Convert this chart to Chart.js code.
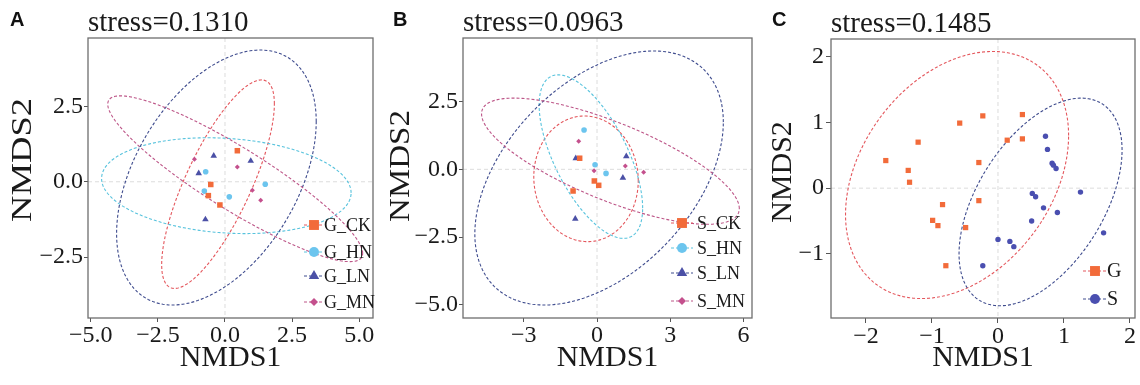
<!DOCTYPE html>
<html>
<head>
<meta charset="utf-8">
<title>NMDS ordination</title>
<script src="https://cdn.jsdelivr.net/npm/chart.js@4.4.1/dist/chart.umd.min.js"></script>
<style>
  html, body { margin: 0; padding: 0; background: #fff; }
  body { width: 1140px; height: 385px; position: relative; overflow: hidden; }
  .panel { position: absolute; top: 0; width: 380px; height: 385px; }
  .tag { position: absolute; top: 8px; font: bold 20px "Liberation Sans", Arial, sans-serif; color: #111; }
</style>
</head>
<body>
<div class="panel" style="left:0"><canvas id="chartA" width="380" height="385"></canvas></div>
<div class="panel" style="left:380px"><canvas id="chartB" width="380" height="385"></canvas></div>
<div class="panel" style="left:760px"><canvas id="chartC" width="380" height="385"></canvas></div>
<div class="tag" style="left:10px">A</div>
<div class="tag" style="left:393px">B</div>
<div class="tag" style="left:772px">C</div>
<script>
// ---- data: [NMDS1, NMDS2] per sample ----
const A_CK = [[0.46, 1.03], [-0.53, -0.09], [-0.62, -0.46], [-0.19, -0.77]];
const A_HN = [[-0.72, 0.33], [-0.77, -0.31], [0.16, -0.50], [1.50, -0.08]];
const A_LN = [[-0.42, 0.86], [-0.98, 0.28], [0.96, 0.69], [-0.73, -1.25]];
const A_MN = [[-1.14, 0.75], [0.46, 0.49], [1.02, -0.28], [1.33, -0.61]];

const B_CK = [[-0.11, -0.43], [0.07, -0.59], [-0.98, -0.80], [-0.71, 0.41]];
const B_HN = [[-0.53, 1.45], [-0.08, 0.17], [0.37, -0.15]];
const B_LN = [[-0.87, 0.41], [1.20, 0.48], [1.06, -0.31], [-0.89, -1.83]];
const B_MN = [[-0.75, 1.04], [-0.12, -0.05], [1.16, 0.12], [1.91, -0.11]];

const C_G = [[-1.70, 0.42], [-1.36, 0.27], [-1.34, 0.09], [-1.21, 0.70], [-0.58, 0.99],
  [-0.23, 1.10], [0.37, 1.12], [0.14, 0.73], [0.37, 0.75], [-0.29, 0.39], [-0.84, -0.25],
  [-0.29, -0.19], [-0.99, -0.49], [-0.91, -0.57], [-0.49, -0.60], [-0.79, -1.18]];
const C_S = [[0.72, 0.79], [0.75, 0.59], [0.82, 0.38], [0.84, 0.35], [0.88, 0.30],
  [0.52, -0.08], [0.57, -0.13], [1.25, -0.06], [0.69, -0.30], [0.90, -0.37], [0.51, -0.50],
  [1.60, -0.68], [0.00, -0.78], [0.18, -0.81], [0.24, -0.89], [-0.23, -1.18]];

// ---- 95% ellipses: [centre x, centre y, half-width, half-height, correlation] ----
const A_CK_ELL = [-0.26, -0.08, 2.10, 3.46, 0.77];
const A_HN_ELL = [0.05, -0.13, 4.65, 1.59, -0.15];
const A_LN_ELL = [-0.32, 0.14, 3.72, 4.23, 0.44];
const A_MN_ELL = [0.38, 0.10, 4.75, 2.75, -0.90];
const B_CK_ELL = [-0.45, -0.35, 2.14, 2.32, -0.03];
const B_HN_ELL = [-0.25, 0.47, 2.12, 3.02, -0.63];
const B_LN_ELL = [0.085, -0.32, 5.09, 4.69, 0.44];
const B_MN_ELL = [0.55, 0.30, 5.28, 2.33, -0.75];
const C_G_ELL = [-0.62, 0.20, 1.69, 1.88, 0.32];
const C_S_ELL = [0.645, -0.21, 1.235, 1.58, 0.50];

// ---- axis ticks ----
const A_X_TICKS = [-5, -2.5, 0, 2.5, 5];
const A_X_LABELS = ["\u22125.0", "\u22122.5", "0.0", "2.5", "5.0"];
const A_Y_TICKS = [-2.5, 0, 2.5];
const A_Y_LABELS = ["\u22122.5", "0.0", "2.5"];
const B_X_TICKS = [-3, 0, 3, 6];
const B_X_LABELS = ["\u22123", "0", "3", "6"];
const B_Y_TICKS = [-5, -2.5, 0, 2.5];
const B_Y_LABELS = ["\u22125.0", "\u22122.5", "0.0", "2.5"];
const C_X_TICKS = [-2, -1, 0, 1, 2];
const C_X_LABELS = ["\u22122", "\u22121", "0", "1", "2"];
const C_Y_TICKS = [-1, 0, 1, 2];
const C_Y_LABELS = ["\u22121", "0", "1", "2"];

const SERIF = '"Liberation Serif", "Times New Roman", serif';
const TEXT_COLOR = "#1a1a1a";
const ZERO_LINE_COLOR = "#dcdcdc";
const BOX_COLOR = "#6e6e6e";

const CK = { fill: "#F26B3A", line: "#E4575D", style: "rect", r: 3.9, key: 7 };
const HN = { fill: "#6CC5EE", line: "#58C3DD", style: "circle", r: 2.8, key: 5 };
const LN = { fill: "#4B50A6", line: "#3F4C8E", style: "triangle", r: 3.8, key: 6 };
const MN = { fill: "#C4508D", line: "#BD5688", style: "rectRot", r: 2.5, key: 4 };
const GG = { fill: "#F26B3A", line: "#E4575D", style: "rect", r: 3.7, key: 7 };
const SS = { fill: "#4A4FB0", line: "#3F4C8E", style: "circle", r: 2.7, key: 5 };

Chart.defaults.font.family = SERIF;
Chart.defaults.color = TEXT_COLOR;

function drawMarker(ctx, style, radius, x, y) {
  if (Chart.helpers && Chart.helpers.drawPoint) {
    Chart.helpers.drawPoint(ctx, { pointStyle: style, radius, rotation: 0, borderWidth: 0 }, x, y);
    return;
  }
  ctx.beginPath();
  ctx.arc(x, y, radius, 0, Math.PI * 2);
  ctx.fill();
}

// Ellipses, zero lines, panel box, y title and the in-panel legend.
function panelPlugin(groups, legend, yTitle) {
  return {
    id: "panelDecor",
    beforeDatasetsDraw(chart) {
      const { ctx, chartArea: a, scales: { x, y } } = chart;
      ctx.save();
      ctx.beginPath();
      ctx.rect(a.left, a.top, a.right - a.left, a.bottom - a.top);
      ctx.clip();
      const x0 = x.getPixelForValue(0);
      const y0 = y.getPixelForValue(0);
      ctx.strokeStyle = ZERO_LINE_COLOR;
      ctx.lineWidth = 1;
      ctx.setLineDash([4, 3]);
      ctx.beginPath();
      ctx.moveTo(x0, a.top); ctx.lineTo(x0, a.bottom);
      ctx.moveTo(a.left, y0); ctx.lineTo(a.right, y0);
      ctx.stroke();

      ctx.setLineDash([3, 2]);
      ctx.lineWidth = 1.1;
      groups.forEach((g) => {
        const [cx, cy, hw, hh, r] = g.ellipse;
        const s = Math.sqrt(1 - r * r);
        ctx.strokeStyle = g.sym.line;
        ctx.beginPath();
        for (let i = 0; i <= 200; i++) {
          const t = (i / 200) * Math.PI * 2;
          const u = Math.cos(t), v = Math.sin(t);
          const px = x.getPixelForValue(cx + hw * u);
          const py = y.getPixelForValue(cy + hh * (r * u + s * v));
          if (i === 0) ctx.moveTo(px, py); else ctx.lineTo(px, py);
        }
        ctx.closePath();
        ctx.stroke();
      });
      ctx.restore();
    },
    afterDraw(chart) {
      const { ctx, chartArea: a } = chart;
      ctx.save();
      ctx.strokeStyle = BOX_COLOR;
      ctx.lineWidth = 1.3;
      ctx.strokeRect(a.left, a.top, a.right - a.left, a.bottom - a.top);

      // NMDS2 title (stretched along its baseline, as in the figure)
      ctx.save();
      ctx.translate(yTitle.x, yTitle.y);
      ctx.rotate(-Math.PI / 2);
      ctx.scale(yTitle.stretch, 1);
      ctx.font = `30px ${SERIF}`;
      ctx.fillStyle = TEXT_COLOR;
      ctx.textAlign = "center";
      ctx.textBaseline = "middle";
      ctx.fillText("NMDS2", 0, 0);
      ctx.restore();

      ctx.font = `${legend.size}px ${SERIF}`;
      ctx.textBaseline = "middle";
      ctx.textAlign = "left";
      groups.forEach((g, i) => {
        const sx = a.right + legend.symX;
        const sy = a.bottom - legend.rows[i];
        ctx.strokeStyle = g.sym.line;
        ctx.lineWidth = 1;
        ctx.setLineDash([3, 2]);
        ctx.beginPath();
        ctx.moveTo(sx - legend.lineL, sy);
        ctx.lineTo(sx + legend.lineR, sy);
        ctx.stroke();
        ctx.setLineDash([]);
        ctx.fillStyle = g.sym.fill;
        drawMarker(ctx, g.sym.style, g.sym.key, sx, sy);
        ctx.fillStyle = TEXT_COLOR;
        ctx.fillText(g.label, a.right + legend.textX, sy + 1);
      });
      ctx.restore();
    },
  };
}

function axis(min, max, ticks, labels, title, isX, opts) {
  return {
    type: "linear",
    position: isX ? "bottom" : "left",
    min, max,
    afterBuildTicks: (scale) => { scale.ticks = ticks.map((v) => ({ value: v })); },
    afterFit: (scale) => {
      if (isX) scale.height = opts.xHeight; else scale.width = opts.yWidth;
    },
    ticks: {
      callback: (v, i) => labels[i],
      font: { size: 24, family: SERIF },
      color: TEXT_COLOR,
      padding: isX ? opts.xPad : opts.yPad,
      maxRotation: 0,
      autoSkip: false,
    },
    grid: { drawOnChartArea: false, drawTicks: true, tickLength: opts.tick, color: "#555", lineWidth: 1 },
    border: { display: false },
    title: {
      display: isX,
      text: title,
      font: { size: 30, family: SERIF, lineHeight: 1.2 },
      color: TEXT_COLOR,
      padding: { top: 0, bottom: opts.xTitlePad },
    },
  };
}

function makePanel(id, stress, groups, xr, yr, xt, xl, yt, yl, opts, legend, yTitle) {
  new Chart(document.getElementById(id), {
    type: "scatter",
    data: {
      datasets: groups.map((g) => ({
        label: g.label,
        data: g.points.map(([x, y]) => ({ x, y })),
        pointStyle: g.sym.style,
        pointRadius: g.sym.r,
        pointBackgroundColor: g.sym.fill,
        pointBorderColor: g.sym.fill,
        pointBorderWidth: 0,
        backgroundColor: g.sym.fill,
        borderColor: g.sym.fill,
      })),
    },
    options: {
      responsive: false,
      animation: false,
      events: [],
      layout: { padding: { left: 0, top: 0, right: opts.right, bottom: 0 } },
      scales: {
        x: axis(xr[0], xr[1], xt, xl, "NMDS1", true, opts),
        y: axis(yr[0], yr[1], yt, yl, "NMDS2", false, opts),
      },
      plugins: {
        legend: { display: false },
        tooltip: { enabled: false },
        title: {
          display: true,
          text: "stress=" + stress,
          align: "start",
          fullSize: false,
          color: TEXT_COLOR,
          font: { size: 29, family: SERIF, weight: "normal", lineHeight: 1.0 },
          padding: { top: opts.titleTop, bottom: 0 },
        },
      },
    },
    plugins: [panelPlugin(groups, legend, yTitle)],
  });
}

makePanel("chartA", "0.1310",
  [
    { label: "G_CK", points: A_CK, ellipse: A_CK_ELL, sym: CK },
    { label: "G_HN", points: A_HN, ellipse: A_HN_ELL, sym: HN },
    { label: "G_LN", points: A_LN, ellipse: A_LN_ELL, sym: LN },
    { label: "G_MN", points: A_MN, ellipse: A_MN_ELL, sym: MN },
  ],
  [-5.106, 5.516], [-4.52, 4.77], A_X_TICKS, A_X_LABELS, A_Y_TICKS, A_Y_LABELS,
  { right: 7, yWidth: 88, xHeight: 67, tick: 4, xPad: -1, yPad: 1, xTitlePad: 9, titleTop: 9 },
  { size: 18, symX: -59, textX: -49, lineL: 10, lineR: 10, rows: [93, 66, 42, 16] },
  { x: 23, y: 160, stretch: 1.22 });

makePanel("chartB", "0.0963",
  [
    { label: "S_CK", points: B_CK, ellipse: B_CK_ELL, sym: CK },
    { label: "S_HN", points: B_HN, ellipse: B_HN_ELL, sym: HN },
    { label: "S_LN", points: B_LN, ellipse: B_LN_ELL, sym: LN },
    { label: "S_MN", points: B_MN, ellipse: B_MN_ELL, sym: MN },
  ],
  [-5.49, 6.35], [-5.49, 4.85], B_X_TICKS, B_X_LABELS, B_Y_TICKS, B_Y_LABELS,
  { right: 8, yWidth: 83, xHeight: 67, tick: 4, xPad: -1, yPad: 1, xTitlePad: 9, titleTop: 9 },
  { size: 18, symX: -70, textX: -55, lineL: 11, lineR: 11, rows: [95, 70, 45, 17] },
  { x: 21, y: 166, stretch: 1.1 });

makePanel("chartC", "0.1485",
  [
    { label: "G", points: C_G, ellipse: C_G_ELL, sym: GG },
    { label: "S", points: C_S, ellipse: C_S_ELL, sym: SS },
  ],
  [-2.53, 2.076], [-1.976, 2.27], C_X_TICKS, C_X_LABELS, C_Y_TICKS, C_Y_LABELS,
  { right: 5, yWidth: 71, xHeight: 67, tick: 5, xPad: -1, yPad: 2, xTitlePad: 9, titleTop: 10 },
  { size: 20, symX: -40, textX: -28, lineL: 12, lineR: 12, rows: [47, 19] },
  { x: 23, y: 172, stretch: 1.0 });
</script>
</body>
</html>
